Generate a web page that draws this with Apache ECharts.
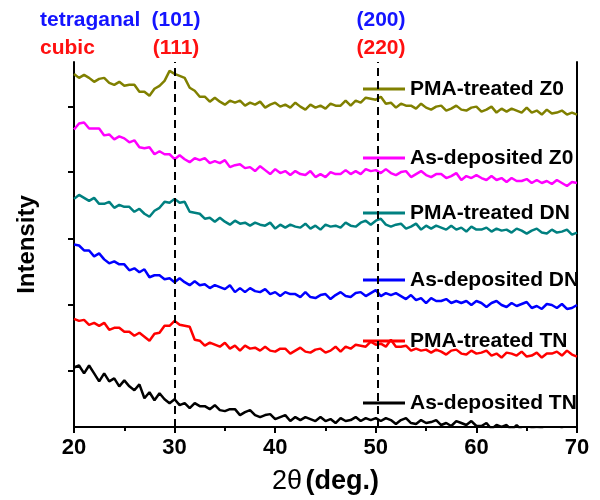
<!DOCTYPE html>
<html>
<head>
<meta charset="utf-8">
<script src="https://cdn.jsdelivr.net/npm/echarts@6/dist/echarts.min.js"></script>
<style>
  html, body { margin: 0; padding: 0; background: #fff; }
  #chart { width: 600px; height: 500px; }
</style>
</head>
<body>
<div id="chart"></div>
<script>
// 2θ sampling (deg.)
var twoTheta = [20,20.5,21,21.5,22,22.5,23,23.5,24,24.5,25,25.5,26,26.5,27,27.5,28,28.5,29,29.5,
  30,30.5,31,31.5,32,32.5,33,33.5,34,34.5,35,35.5,36,36.5,37,37.5,38,38.5,39,39.5,
  40,40.5,41,41.5,42,42.5,43,43.5,44,44.5,45,45.5,46,46.5,47,47.5,48,48.5,49,49.5,
  50,50.5,51,51.5,52,52.5,53,53.5,54,54.5,55,55.5,56,56.5,57,57.5,58,58.5,59,59.5,
  60,60.5,61,61.5,62,62.5,63,63.5,64,64.5,65,65.5,66,66.5,67,67.5,68,68.5,69,69.5,70];

// intensity, stacked (offset units)
var pmaZ0 = [356,352,355,352,348,351,352,347,345,348,344,345,345,338,338,334,341,344,349,359,
  356,354,352,342,339,333,333,328,332,328,325,329,327,329,324,327,325,328,322,325,
  327,323,325,322,327,323,320,325,322,324,321,326,324,324,329,324,329,327,332,331,
  330,333,326,327,322,326,324,324,321,326,322,320,323,324,319,321,324,320,319,322,
  323,318,320,323,317,321,318,321,319,317,322,317,319,315,320,316,317,319,315,317,315];

var asZ0 = [300,306,307,301,301,301,294,295,290,293,291,287,289,282,281,282,275,278,275,275,
  270,274,270,267,271,269,271,266,268,266,269,262,264,265,261,262,258,263,259,255,
  260,256,258,254,258,255,254,258,252,255,252,257,255,255,259,255,258,255,260,258,
  259,256,260,256,254,257,258,252,255,258,254,252,255,255,251,253,256,249,253,251,
  254,251,249,253,249,251,247,251,248,248,250,246,249,246,248,245,249,246,243,247,246];

var pmaDN = [230,234,231,228,231,225,225,227,221,224,222,222,217,220,215,212,218,221,227,226,
  230,226,227,217,216,215,210,211,207,211,207,204,208,205,206,203,206,204,203,206,
  200,204,201,204,202,201,205,200,203,199,204,202,203,201,206,203,202,206,208,204,
  208,210,204,202,204,205,200,202,205,199,203,200,203,201,199,203,199,201,197,202,
  199,199,201,197,200,198,199,196,200,198,195,198,200,196,195,199,196,197,199,194,196];

var asDN = [184,183,178,178,172,175,169,165,167,164,164,158,160,156,159,151,153,153,149,150,
  146,150,146,143,147,143,144,140,143,141,139,143,136,140,136,140,137,136,139,134,
  136,132,136,134,134,131,136,131,130,133,134,129,133,136,132,131,135,136,132,135,
  138,132,135,133,135,132,129,133,128,130,125,130,127,127,129,125,127,125,127,123,
  127,125,121,125,127,123,121,125,122,124,126,120,122,119,124,123,120,124,119,120,123];

var pmaTN = [109,107,108,103,105,102,105,98,100,100,96,96,92,95,91,87,94,95,102,102,
  107,103,102,101,88,87,82,85,83,81,85,79,82,77,82,79,80,77,81,77,
  76,79,79,74,77,80,76,75,78,79,75,77,81,76,81,79,83,82,81,86,
  83,84,81,88,81,81,82,77,79,77,78,75,78,76,73,77,78,74,73,77,
  74,75,77,72,74,70,75,74,72,76,71,72,75,70,74,74,76,72,77,73,71];

var asTN = [60,62,54,62,54,46,54,46,49,41,47,41,37,43,29,35,27,34,28,24,
  28,22,24,19,24,21,21,18,22,17,16,18,18,12,15,17,12,10,12,13,
  8,10,12,6,10,7,10,8,6,10,6,8,4,9,6,7,10,6,9,7,
  9,6,9,7,3,7,9,4,3,7,4,5,7,2,4,1,6,4,2,6,
  1,1,4,-2,2,0,2,-3,2,-3,-5,-2,-3,-2,-6,-3,-6,-2,-8,-6,-4];

var seriesNames = ['PMA-treated Z0', 'As-deposited Z0', 'PMA-treated DN',
  'As-deposited DN', 'PMA-treated TN', 'As-deposited TN'];
var seriesData = [pmaZ0, asZ0, pmaDN, asDN, pmaTN, asTN];
var seriesColors = ['#808000', '#ff00ff', '#008080', '#0000ff', '#ff0000', '#000000'];
var legendY = [89, 158, 213, 280, 341, 403];

var peakLines = [30, 50.2];
var yTicks = [57, 123, 190, 257, 323];

var font = "'Liberation Sans', Arial, sans-serif";

function pairs(ys) {
  return ys.map(function (v, i) { return [twoTheta[i], v]; });
}

var series = seriesData.map(function (d, i) {
  return {
    name: seriesNames[i],
    type: 'line',
    symbol: 'none',
    data: pairs(d),
    lineStyle: { width: 2.5, color: seriesColors[i] },
    itemStyle: { color: seriesColors[i] }
  };
});
series[series.length - 1].markLine = {
  silent: true,
  symbol: ['none', 'none'],
  label: { show: false },
  lineStyle: { type: [8, 5], color: '#000', width: 2 },
  data: peakLines.map(function (x) { return { xAxis: x }; })
};

var legends = seriesNames.map(function (n, i) {
  return {
    data: [n],
    left: 363,
    top: legendY[i] - 11,
    padding: 0,
    icon: 'rect',
    itemWidth: 42,
    itemHeight: 3,
    selectedMode: false,
    textStyle: { fontFamily: font, fontSize: 21, fontWeight: 'bold', color: '#000', lineHeight: 22 }
  };
});

function label(text, x, y, color, align) {
  return {
    type: 'text', x: x, y: y,
    style: {
      text: text, fill: color, font: 'bold 21px ' + font,
      align: align || 'left', verticalAlign: 'middle'
    }
  };
}

var option = {
  animation: false,
  backgroundColor: '#fff',
  grid: { left: 74, right: 23, top: 62, bottom: 70 },
  legend: legends,
  graphic: [
    label('tetraganal', 40, 20, '#1414ff'),
    label('(101)', 176, 20, '#1414ff', 'center'),
    label('(200)', 381, 20, '#1414ff', 'center'),
    label('cubic', 40, 48, '#ff1010'),
    label('(111)', 176, 48, '#ff1010', 'center'),
    label('(220)', 381, 48, '#ff1010', 'center')
  ],
  xAxis: [{
    type: 'value', min: 20, max: 70, interval: 10,
    name: '{a|2θ} {b|(deg.)}',
    nameLocation: 'middle', nameGap: 41,
    nameTextStyle: {
      rich: {
        a: { fontFamily: font, fontSize: 27, color: '#000' },
        b: { fontFamily: font, fontSize: 27, fontWeight: 'bold', color: '#000' }
      }
    },
    axisLine: { lineStyle: { color: '#000', width: 2 } },
    axisTick: { inside: false, length: 6, lineStyle: { color: '#000', width: 2 } },
    minorTick: { show: true, splitNumber: 2, length: 4, lineStyle: { color: '#000', width: 2 } },
    axisLabel: { fontFamily: font, fontSize: 22, fontWeight: 'bold', color: '#000', margin: 10 },
    splitLine: { show: false }
  }, {
    type: 'value', min: 20, max: 70, interval: 10, position: 'top',
    axisLine: { lineStyle: { color: '#000', width: 2 } },
    axisTick: { inside: true, length: 6, lineStyle: { color: '#000', width: 2 } },
    minorTick: { show: true, splitNumber: 2, length: 4, lineStyle: { color: '#000', width: 2 } },
    axisLabel: { show: false },
    splitLine: { show: false }
  }],
  yAxis: [{
    type: 'value', min: 0, max: 368,
    name: 'Intensity', nameLocation: 'middle', nameGap: 35, nameRotate: 90,
    nameTextStyle: { fontFamily: font, fontSize: 24, fontWeight: 'bold', color: '#000' },
    axisLine: { show: true, lineStyle: { color: '#000', width: 2 } },
    axisTick: { show: true, customValues: yTicks, length: 6, lineStyle: { color: '#000', width: 2 } },
    axisLabel: { show: false },
    splitLine: { show: false }
  }, {
    type: 'value', min: 0, max: 368, position: 'right',
    axisLine: { show: true, lineStyle: { color: '#000', width: 2 } },
    axisTick: { show: false },
    axisLabel: { show: false },
    splitLine: { show: false }
  }],
  series: series
};

var chart = echarts.init(document.getElementById('chart'));
chart.setOption(option);
</script>
</body>
</html>
